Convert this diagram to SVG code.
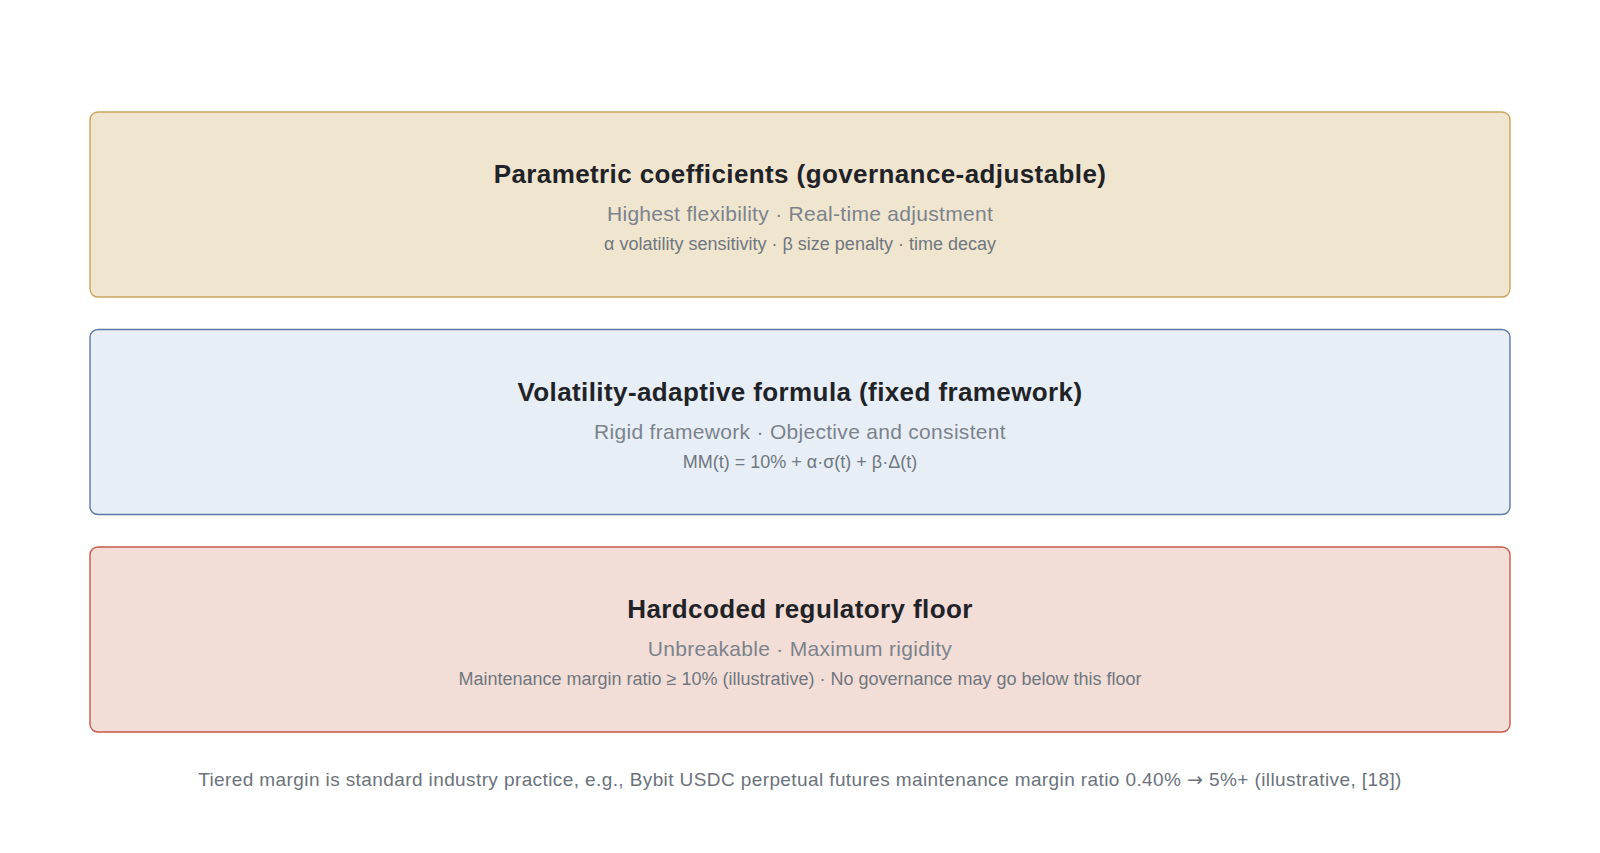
<svg xmlns="http://www.w3.org/2000/svg" width="1600" height="853" viewBox="0 0 1600 853">
<style>
.box{stroke-width:1.4}
.t{font-family:"Liberation Sans",Arial,sans-serif;text-anchor:middle}
.h{font-size:26px;font-weight:bold;fill:#1f2328;letter-spacing:0.4px}
.s{font-size:21px;fill:#7b838c;letter-spacing:0.3px}
.d{font-size:18px;fill:#6f7780}
.f{font-size:19px;fill:#6b727b;letter-spacing:0.4px}
.ar{font-family:"DejaVu Sans",sans-serif}
</style>
<rect width="1600" height="853" fill="#ffffff"/>
<g id="node-parametric">
<rect class="box" x="90" y="112" width="1420" height="185" rx="8" fill="#f0e5cf" stroke="#c9a55c"/>
<text class="t h" x="800" y="183.3">Parametric coefficients (governance-adjustable)</text>
<text class="t s" x="800" y="221">Highest flexibility · Real-time adjustment</text>
<text class="t d" x="800" y="250">α volatility sensitivity · β size penalty · time decay</text>
</g>
<g id="node-formula">
<rect class="box" x="90" y="329.5" width="1420" height="185" rx="8" fill="#e8eef6" stroke="#5b7aa3"/>
<text class="t h" x="800" y="400.8">Volatility-adaptive formula (fixed framework)</text>
<text class="t s" x="800" y="438.5">Rigid framework · Objective and consistent</text>
<text class="t d" x="800" y="467.5">MM(t) = 10% + α·σ(t) + β·Δ(t)</text>
</g>
<g id="node-floor">
<rect class="box" x="90" y="547" width="1420" height="185" rx="8" fill="#f3ddd7" stroke="#c85a48"/>
<text class="t h" x="800" y="618.3">Hardcoded regulatory floor</text>
<text class="t s" x="800" y="656">Unbreakable · Maximum rigidity</text>
<text class="t d" x="800" y="685">Maintenance margin ratio ≥ 10% (illustrative) · No governance may go below this floor</text>
</g>
<g id="connectors"></g>
<text class="t f" x="800" y="785.7">Tiered margin is standard industry practice, e.g., Bybit USDC perpetual futures maintenance margin ratio 0.40% <tspan class="ar">→</tspan> 5%+ (illustrative, [18])</text>
</svg>
